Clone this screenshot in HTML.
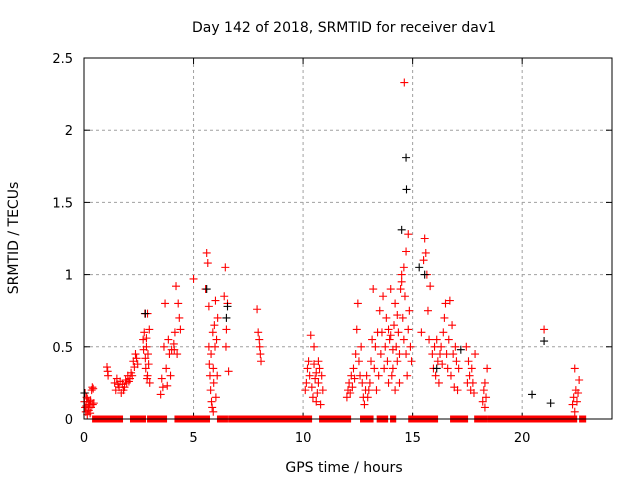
<!DOCTYPE html>
<html><head><meta charset="utf-8"><style>
body{margin:0;background:#fff}
svg{display:block;font-family:"DejaVu Sans","Liberation Sans",sans-serif}
</style></head><body>
<svg id="c" width="640" height="480">
<text x="344" y="32" font-size="14" text-anchor="middle">Day 142 of 2018, SRMTID for receiver dav1</text>
<text x="344" y="472" font-size="14" text-anchor="middle">GPS time / hours</text>
<text transform="translate(18,238) rotate(-90)" font-size="14" text-anchor="middle">SRMTID / TECUs</text>
<g id="grid"></g><g id="ticks"></g><g id="zeros"></g><g id="red"></g><g id="blk"></g>
<rect x="84" y="58" width="528" height="361" fill="none" stroke="#000" stroke-width="1"/>
</svg>
<script>
const xTicks=[0,5,10,15,20];
const yTicks=[0,0.5,1,1.5,2,2.5];
const yTickLabels=["0","0.5","1","1.5","2","2.5"];
const zeroSegments=[[0.46,1.46],[1.64,1.69],[2.19,2.28],[2.42,2.74],[2.97,3.70],[4.22,4.28],[4.43,5.66],[6.16,6.48],[6.67,7.90],[7.99,10.0],[10.09,10.32],[10.82,12.10],[12.69,12.97],[13.08,13.12],[13.45,13.49],[13.6,13.79],[14.06,14.16],[14.89,15.66],[15.75,16.07],[16.8,17.12],[17.21,17.44],[17.9,18.31],[18.49,22.42],[22.69,22.83]];
const redPoints=[[0.02,0.12],[0.05,0.18],[0.08,0.05],[0.1,0.09],[0.12,0.15],[0.15,0.03],[0.18,0.08],[0.2,0.12],[0.22,0.06],[0.25,0.1],[0.28,0.04],[0.3,0.13],[0.32,0.08],[0.35,0.2],[0.38,0.22],[0.4,0.1],[0.42,0.21],[0.45,0.11],[0.05,0.08],[0.15,0.14],
[1.05,0.36],[1.08,0.33],[1.1,0.3],
[1.4,0.25],[1.45,0.2],[1.5,0.28],[1.55,0.24],[1.6,0.22],[1.65,0.26],[1.7,0.18],[1.75,0.24],[1.8,0.2],[1.85,0.22],[1.9,0.27],[1.95,0.25],[2.0,0.3],[2.05,0.26],[2.1,0.28],[2.15,0.32],[2.2,0.3],[2.25,0.4],[2.3,0.36],[2.35,0.45],[2.4,0.42],[2.45,0.38],
[2.7,0.55],[2.72,0.48],[2.75,0.6],[2.78,0.73],[2.8,0.42],[2.82,0.35],[2.85,0.5],[2.88,0.28],[2.9,0.73],[2.92,0.45],[2.95,0.38],[2.98,0.62],[3.0,0.25],[2.85,0.56],[2.9,0.3],
[3.5,0.17],[3.55,0.28],[3.6,0.22],[3.65,0.5],[3.7,0.8],[3.75,0.35],[3.8,0.23],[3.85,0.55],[3.9,0.45],[3.95,0.3],[4.0,0.48],
[4.1,0.52],[4.15,0.6],[4.2,0.92],[4.25,0.45],[4.3,0.8],[4.35,0.7],[4.4,0.62],[4.12,0.48],
[5.0,0.97],
[5.55,0.9],[5.6,1.15],[5.65,1.08],[5.7,0.5],[5.72,0.38],[5.75,0.3],[5.78,0.2],[5.8,0.45],[5.82,0.12],[5.85,0.08],[5.88,0.6],[5.9,0.35],[5.92,0.25],[5.95,0.65],[5.98,0.5],[6.0,0.82],[6.02,0.15],[6.05,0.55],[6.08,0.3],[6.1,0.7],[5.7,0.78],[5.9,0.05],
[6.4,0.85],[6.45,1.05],[6.48,0.5],[6.5,0.62],[6.55,0.8],[6.6,0.33],
[7.9,0.76],[7.95,0.6],[8.0,0.55],[8.02,0.5],[8.05,0.45],[8.08,0.4],
[10.1,0.2],[10.15,0.25],[10.2,0.35],[10.25,0.4],[10.3,0.3],[10.35,0.58],[10.4,0.22],[10.45,0.15],[10.5,0.38],[10.55,0.28],[10.6,0.32],[10.65,0.18],[10.7,0.25],[10.75,0.35],[10.8,0.1],[10.85,0.3],[10.9,0.2],[10.5,0.5],[10.6,0.12],[10.7,0.4],
[12.0,0.15],[12.05,0.2],[12.1,0.25],[12.15,0.18],[12.2,0.3],[12.25,0.22],[12.3,0.35],[12.35,0.28],[12.4,0.45],[12.45,0.62],[12.5,0.8],[12.55,0.4],[12.6,0.3],[12.65,0.5],[12.7,0.25],[12.75,0.15],[12.8,0.1],[12.85,0.2],[12.9,0.3],[12.95,0.15],[13.0,0.2],[13.05,0.25],[13.1,0.4],[13.15,0.55],[13.2,0.9],[13.25,0.35],[13.3,0.5],[13.35,0.2],[13.4,0.6],[13.45,0.3],
[13.5,0.75],[13.55,0.45],[13.6,0.6],[13.65,0.85],[13.7,0.35],[13.75,0.5],[13.8,0.7],[13.85,0.4],[13.9,0.62],[13.95,0.55],[14.0,0.9],[14.05,0.3],[14.1,0.48],[14.15,0.65],[14.2,0.8],[14.25,0.5],[14.3,0.4],[14.35,0.6],[14.4,0.25],[14.45,0.9],[14.5,1.0],[14.55,0.7],[14.6,0.55],[14.62,2.33],[14.65,0.85],[14.7,0.45],[14.75,0.3],[14.8,0.62],[14.85,0.75],[14.9,0.5],[14.95,0.4],[14.6,1.05],[14.7,1.16],[14.8,1.28],[14.5,0.95],[14.3,0.72],[14.0,0.58],[13.9,0.25],[14.2,0.2],[14.4,0.45],[14.1,0.35],
[15.4,0.6],[15.5,1.1],[15.55,1.25],[15.6,1.15],[15.65,1.0],[15.7,0.75],[15.75,0.55],[15.8,0.92],[15.9,0.45],[15.95,0.35],[16.0,0.5],[16.05,0.3],[16.1,0.55],[16.15,0.4],[16.2,0.25],[16.25,0.45],
[16.3,0.5],[16.35,0.38],[16.4,0.6],[16.45,0.7],[16.5,0.8],[16.55,0.45],[16.6,0.35],[16.65,0.55],[16.7,0.82],[16.75,0.3],[16.8,0.65],[16.85,0.45],[16.9,0.22],[16.95,0.5],[17.0,0.4],[17.05,0.2],[17.1,0.35],
[17.45,0.5],[17.5,0.25],[17.55,0.4],[17.6,0.3],[17.65,0.2],[17.7,0.35],[17.75,0.25],[17.8,0.18],[17.85,0.45],[18.2,0.12],[18.25,0.2],[18.3,0.25],[18.35,0.15],[18.4,0.35],[18.3,0.08],
[21.0,0.62],
[22.3,0.1],[22.35,0.15],[22.4,0.35],[22.45,0.2],[22.5,0.12],[22.55,0.18],[22.6,0.27],[22.4,0.05]];
const blackPoints=[[0.02,0.18],[2.8,0.73],[5.6,0.9],[6.5,0.7],[6.55,0.78],[14.7,1.81],[14.72,1.59],[14.5,1.31],[15.55,1.0],[15.3,1.05],[20.45,0.17],[21.0,0.54],[21.3,0.11],[17.2,0.48],[16.1,0.35]];

const NS="http://www.w3.org/2000/svg";
const X0=84,X1=612,Y0=419,Y1=58,XMAX=24.1,YMAX=2.5;
function sx(h){return X0+h/XMAX*(X1-X0);}
function sy(v){return Y0-v/YMAX*(Y0-Y1);}
function mk(tag,attrs,parent){const e=document.createElementNS(NS,tag);for(const k in attrs)e.setAttribute(k,attrs[k]);document.getElementById(parent).appendChild(e);return e;}
xTicks.forEach(t=>{
  const x=sx(t);
  if(t>0){const g=mk('line',{x1:x,x2:x,y1:Y1,y2:Y0,stroke:'#a0a0a0','stroke-dasharray':'3,3'},'grid');
  
  }
  mk('line',{x1:x,x2:x,y1:Y0,y2:Y0-6,stroke:'#000'},'ticks');
  mk('line',{x1:x,x2:x,y1:Y1,y2:Y1+6,stroke:'#000'},'ticks');
  const l=mk('text',{x:x,y:Y0+23,'font-size':13,'text-anchor':'middle'},'ticks');
  l.textContent=String(t);
  
  
});
yTicks.forEach((t,i)=>{
  const y=sy(t);
  if(t>0&&t<YMAX){const g=mk('line',{x1:X0,x2:X1,y1:y,y2:y,stroke:'#a0a0a0','stroke-dasharray':'3,3'},'grid');
  
  }
  mk('line',{x1:X0,x2:X0+6,y1:y,y2:y,stroke:'#000'},'ticks');
  mk('line',{x1:X1,x2:X1-6,y1:y,y2:y,stroke:'#000'},'ticks');
  const l=mk('text',{x:X0-11,y:y+5,'font-size':13,'text-anchor':'end'},'ticks');
  l.textContent=yTickLabels[i];
  
  
});
zeroSegments.forEach(s=>{
  const r=mk('rect',{x:sx(s[0])-2,y:sy(0)-3.5,width:Math.max(sx(s[1])-sx(s[0]),1)+4,height:7,fill:'#f00'},'zeros');
  
  
});
function plus(p,col,parent,name){
  const x=sx(p[0]),y=sy(p[1]);
  const e=mk('path',{d:`M${x-4} ${y}H${x+4}M${x} ${y-4}V${y+4}`,stroke:col,'stroke-width':1.1,fill:'none'},parent);
  
  
}
redPoints.forEach(p=>plus(p,'#f00','red','red-point'));
blackPoints.forEach(p=>plus(p,'#000','blk','black-point'));
</script>
</body></html>
